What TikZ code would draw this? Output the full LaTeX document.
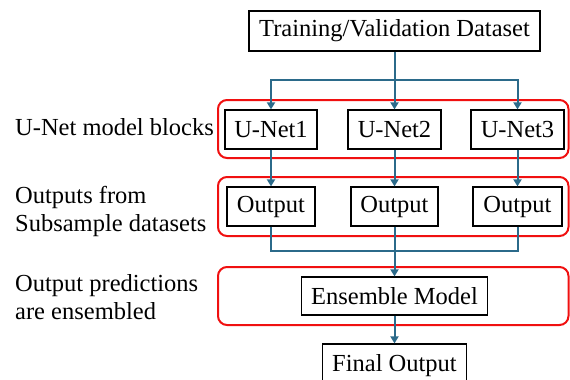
\documentclass[tikz,border=0pt]{standalone}
\usepackage{fontspec}
\setmainfont{Liberation Serif}
\usetikzlibrary{arrows.meta}
\definecolor{flow}{HTML}{2B6A8A}
\definecolor{grp}{HTML}{F01010}
\begin{document}
\begin{tikzpicture}[x=1pt,y=-1pt,
  box/.style={draw=black,line width=1.2pt,inner sep=0pt,font=\fontsize{24.5}{28}\selectfont,minimum height=39pt},
  grpbox/.style={draw=grp,line width=2pt,rounded corners=9pt},
  lbl/.style={font=\fontsize{24.5}{28}\selectfont,align=left,inner sep=0pt},
  wire/.style={draw=flow,line width=2pt},
  arr/.style={wire,-{Triangle[length=7pt,width=8pt]}}]
\useasboundingbox (0,0) rectangle (570,380);
\clip (0,0) rectangle (570,380);
% group frames
\draw[grpbox] (218,100) rectangle (568.5,158);
\draw[grpbox] (218,177) rectangle (568.5,236);
\draw[grpbox] (218,267) rectangle (568.5,325);
% boxes
\node[box,minimum width=291pt,minimum height=40pt] (top) at (394.5,31) {Training/Validation Dataset};
\node[box,minimum width=92pt] (u1) at (271,129.5) {U-Net1};
\node[box,minimum width=93pt] (u2) at (394.5,129.5) {U-Net2};
\node[box,minimum width=93pt] (u3) at (517.5,129.5) {U-Net3};
\node[box,minimum width=88pt] (o1) at (271,206.5) {Output};
\node[box,minimum width=87pt] (o2) at (394.5,206.5) {Output};
\node[box,minimum width=89pt] (o3) at (517.5,206.5) {Output};
\node[box,minimum width=186pt,minimum height=38pt] (ens) at (394.5,296) {Ensemble Model};
\node[box,minimum width=144pt,minimum height=44pt] (fin) at (394.5,366) {Final Output};
% labels
\node[lbl,anchor=base west] (l1) at (15,135) {U-Net model blocks};
\node[lbl,anchor=west] (l2) at (15,211) {Outputs from\\Subsample datasets};
\node[lbl,anchor=west] (l3) at (15,297) {Output predictions\\are ensembled};
% connectors
\coordinate (j1) at (394.5,80);
\coordinate (j2) at (394.5,251);
\draw[wire] (top.south) -- (j1);
\draw[arr] (j1) -| (u1.north);
\draw[arr] (j1) -- (u2.north);
\draw[arr] (j1) -| (u3.north);
\draw[arr] (u1.south) -- (o1.north);
\draw[arr] (u2.south) -- (o2.north);
\draw[arr] (u3.south) -- (o3.north);
\draw[wire] (o1.south) |- (j2);
\draw[wire] (o3.south) |- (j2);
\draw[wire] (o2.south) -- (j2);
\draw[arr] (j2) -- (ens.north);
\draw[arr] (ens.south) -- (fin.north);
\end{tikzpicture}
\end{document}
